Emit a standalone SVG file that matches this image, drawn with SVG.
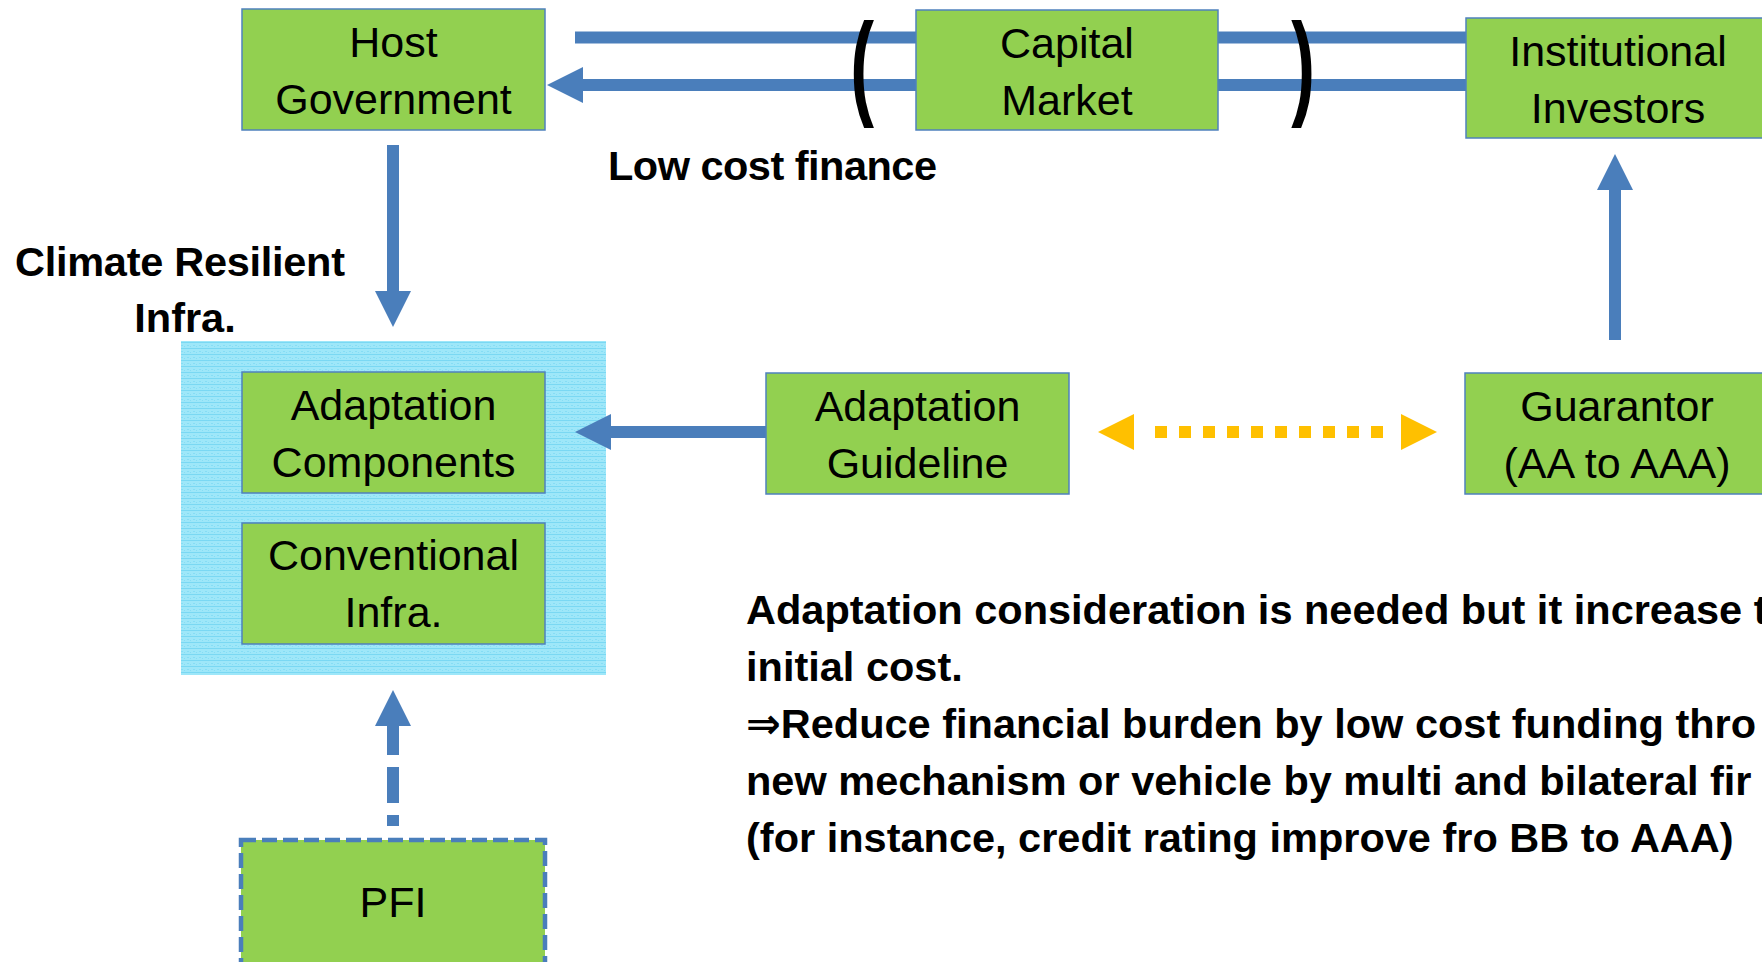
<svg xmlns="http://www.w3.org/2000/svg" width="1762" height="962" viewBox="0 0 1762 962">
  <style>
    .node { fill: #92D050; stroke: #4F81BD; stroke-width: 1.5; }
    .label { font-family: "Liberation Sans", Arial, sans-serif; font-size: 43px; fill: #000; text-anchor: middle; }
    .bold { font-family: "Liberation Sans", Arial, "DejaVu Sans", sans-serif; font-size: 41.5px; font-weight: bold; fill: #000; }
    .flow { fill: none; stroke: #4A7EBB; stroke-width: 12; }
    .paren { font-family: "Liberation Sans", Arial, sans-serif; font-size: 115px; font-weight: bold; fill: #000; text-anchor: middle; }
    .yhead { fill: #FFC000; }
  </style>
  <defs>
    <!-- textured fill for the infrastructure container -->
    <pattern id="weave" width="6" height="6" patternUnits="userSpaceOnUse">
      <rect width="6" height="6" fill="#9EE7F9"/>
      <rect y="0" width="6" height="1" fill="#7AD8F3"/>
      <rect x="1" y="3" width="2" height="1" fill="#86DDF5"/>
      <rect x="4" y="4" width="1" height="1" fill="#86DDF5"/>
    </pattern>
    <marker id="ah" viewBox="0 0 36 36" refX="0" refY="18" markerWidth="36" markerHeight="36" markerUnits="userSpaceOnUse" orient="auto">
      <path d="M0,0 L36,18 L0,36 Z" fill="#4A7EBB"/>
    </marker>
  </defs>

  <!-- container behind the two infrastructure boxes -->
  <rect id="infra-area" x="181" y="341" width="425" height="334" fill="url(#weave)"/>

  <g id="connectors">
    <!-- finance flows across the top row -->
    <path class="flow" d="M575,37.5 H1466"/>
    <path class="flow" d="M1466,85 H583" marker-end="url(#ah)"/>
    <!-- host government to climate resilient infrastructure -->
    <path class="flow" d="M393,145 V291" marker-end="url(#ah)"/>
    <!-- guideline to adaptation components -->
    <path class="flow" d="M766,432 H611" marker-end="url(#ah)"/>
    <!-- guarantor up to institutional investors -->
    <path class="flow" d="M1615,340 V190" marker-end="url(#ah)"/>
    <!-- PFI dashed link -->
    <path class="flow" d="M393,826 V726" stroke-dasharray="11 12 36 12 29" marker-end="url(#ah)"/>
    <!-- two-way dotted link between guideline and guarantor -->
    <path d="M1155,432 H1384" fill="none" stroke="#FFC000" stroke-width="12" stroke-dasharray="12 12"/>
    <polygon class="yhead" points="1098,432 1134,414 1134,450"/>
    <polygon class="yhead" points="1437,432 1401,414 1401,450"/>
  </g>

  <g id="host-government">
    <rect class="node" x="242" y="9" width="303" height="121"/>
    <text class="label" x="393.5" y="57">Host</text>
    <text class="label" x="393.5" y="114">Government</text>
  </g>

  <g id="capital-market">
    <rect class="node" x="916" y="10" width="302" height="120"/>
    <text class="label" x="1067" y="58">Capital</text>
    <text class="label" x="1067" y="115">Market</text>
  </g>

  <g id="institutional-investors">
    <rect class="node" x="1466" y="18" width="304" height="120"/>
    <text class="label" x="1618" y="66">Institutional</text>
    <text class="label" x="1618" y="123">Investors</text>
  </g>

  <g id="adaptation-components">
    <rect class="node" x="242" y="372" width="303" height="121"/>
    <text class="label" x="393.5" y="420">Adaptation</text>
    <text class="label" x="393.5" y="477">Components</text>
  </g>

  <g id="conventional-infra">
    <rect class="node" x="242" y="523" width="303" height="121"/>
    <text class="label" x="393.5" y="570">Conventional</text>
    <text class="label" x="393.5" y="627">Infra.</text>
  </g>

  <g id="adaptation-guideline">
    <rect class="node" x="766" y="373" width="303" height="121"/>
    <text class="label" x="917.5" y="421">Adaptation</text>
    <text class="label" x="917.5" y="478">Guideline</text>
  </g>

  <g id="guarantor">
    <rect class="node" x="1465" y="373" width="304" height="121"/>
    <text class="label" x="1617" y="421">Guarantor</text>
    <text class="label" x="1617" y="478">(AA to AAA)</text>
  </g>

  <g id="pfi">
    <rect x="241" y="840" width="304" height="130" fill="#92D050" stroke="#4A7EBB" stroke-width="4.5" stroke-dasharray="15 6"/>
    <text class="label" x="393" y="917">PFI</text>
  </g>

  <!-- brackets around the capital market, narrowed horizontally -->
  <text class="paren" transform="translate(862,0) scale(0.62,1)" x="0" y="104">(</text>
  <text class="paren" transform="translate(1303,0) scale(0.62,1)" x="0" y="104">)</text>

  <!-- free-standing labels -->
  <text class="bold" x="608" y="180" textLength="329" lengthAdjust="spacing">Low cost finance</text>
  <text class="bold" x="15" y="276" textLength="330" lengthAdjust="spacing">Climate Resilient</text>
  <text class="bold" x="185" y="332" text-anchor="middle">Infra.</text>

  <g id="note">
    <text class="bold" x="746" y="624">Adaptation consideration is needed but it increase t</text>
    <text class="bold" x="746" y="681">initial cost.</text>
    <text class="bold" x="746" y="738">⇒Reduce financial burden by low cost funding thro</text>
    <text class="bold" x="746" y="795">new mechanism or vehicle by multi and bilateral fir</text>
    <text class="bold" x="746" y="852">(for instance, credit rating improve fro BB to AAA)</text>
  </g>
</svg>
